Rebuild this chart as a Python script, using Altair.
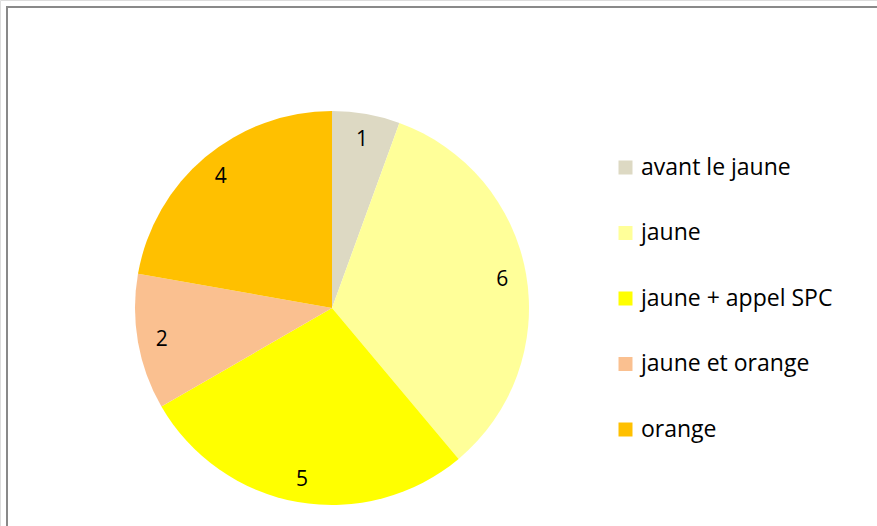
import altair as alt
import pandas as pd

categories = ["avant le jaune", "jaune", "jaune + appel SPC", "jaune et orange", "orange"]
values = [1, 6, 5, 2, 4]
colors = ["#DDD9C3", "#FFFF99", "#FFFF00", "#FAC090", "#FFC000"]

df = pd.DataFrame({"cat": categories, "val": values, "idx": list(range(len(values)))})

W, H = 877, 526
CX, CY, R = 332, 308, 197
FONT = "Open Sans"

frame_df = pd.DataFrame({"k": [0]})
top_rule = alt.Chart(frame_df).mark_rule(color="#898989", strokeWidth=2).encode(
    x=alt.value(7), x2=alt.value(W), y=alt.value(7)
)
left_rule = alt.Chart(frame_df).mark_rule(color="#898989", strokeWidth=2).encode(
    x=alt.value(7), y=alt.value(6), y2=alt.value(H)
)

base = alt.Chart(df).encode(
    theta=alt.Theta("val:Q", stack=True),
    order=alt.Order("idx:Q"),
)

arcs = base.mark_arc(radius=R, stroke=None).encode(
    x=alt.value(CX),
    y=alt.value(CY),
    color=alt.Color(
        "cat:N",
        scale=alt.Scale(domain=categories, range=colors),
        sort=categories,
        legend=alt.Legend(
            title=None,
            orient="none",
            legendX=614,
            legendY=156,
            symbolType="square",
            symbolSize=196,
            symbolStrokeWidth=0,
            labelFont=FONT,
            labelFontSize=23,
            labelColor="#000000",
            labelOffset=4,
            labelLimit=400,
            rowPadding=41.5,
            padding=0,
        ),
    ),
)

labels = base.mark_text(radius=173, font=FONT, fontSize=21, color="#000000").encode(
    x=alt.value(CX),
    y=alt.value(CY + 2),
    text="val:Q",
)

chart = (
    alt.layer(top_rule, left_rule, arcs, labels)
    .properties(width=W, height=H, padding=0, autosize=alt.AutoSizeParams(type="none"))
    .configure_view(stroke=None)
    .configure(background="#ffffff")
)

chart.save("out.html", embed_options={"renderer": "svg", "actions": False})
